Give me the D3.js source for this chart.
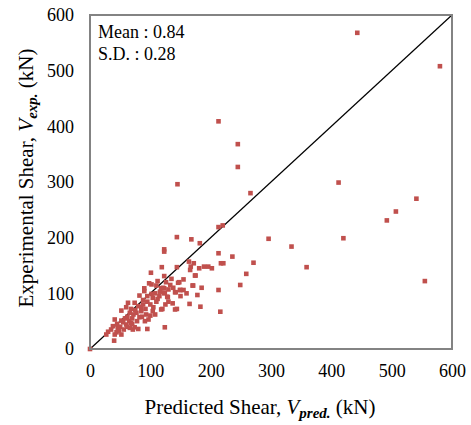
<!DOCTYPE html>
<html>
<head>
<meta charset="utf-8">
<script src="https://cdn.jsdelivr.net/npm/d3@7"></script>
<style>
  body { margin: 0; background: #fff; }
  svg { font-family: "Liberation Serif", "Times New Roman", serif; }
</style>
</head>
<body>
<svg width="471" height="425"></svg>
<script>
// predicted vs experimental shear (kN)
var predicted = [0, 443, 580, 213, 245, 245, 145, 266, 412, 541, 507, 492, 213, 220, 144, 168,
    296, 420, 334, 182, 359, 555, 123, 123, 213, 236, 164, 172, 217, 221, 271, 119,
    144, 167, 181, 189, 196, 202, 166, 101, 259, 123, 174, 98, 102, 110, 146, 133,
    249, 170, 90, 118, 123, 130, 116, 123, 149, 155, 142, 213, 128, 137, 165, 183,
    120, 144, 216, 124, 82, 90, 121, 102, 104, 115, 124, 129, 141, 63, 52, 74,
    80, 88, 66, 77, 82, 85, 93, 97, 104, 41, 52, 60, 68, 74, 38, 46,
    30, 27, 41, 52, 40, 71, 80, 91, 95, 118, 141, 148, 171, 175, 150,
    35, 45, 50, 55, 58, 62, 65, 70, 72, 75, 85, 88, 95, 100, 105, 110,
    112, 108, 95, 92, 86, 78, 70, 48, 44, 56, 62, 66, 100, 108, 60, 68,
    135, 155, 138, 126, 112, 150, 160, 178, 185, 130, 125];
var experimental = [0, 568, 508, 409, 368, 327, 296, 280, 299, 270, 247, 231, 219, 222, 201, 197,
    198, 199, 184, 190, 147, 122, 179, 175, 172, 166, 157, 154, 154, 154, 155, 147,
    147, 148, 145, 148, 148, 145, 142, 137, 135, 131, 132, 118, 116, 114, 119, 115,
    115, 114, 109, 109, 109, 107, 103, 100, 106, 106, 102, 106, 94, 82, 81, 76,
    72, 72, 67, 39, 96, 104, 110, 99, 92, 95, 101, 93, 102, 83, 69, 83,
    77, 80, 65, 65, 57, 68, 62, 53, 68, 53, 51, 44, 47, 39, 41, 38,
    31, 26, 26, 26, 15, 35, 36, 50, 36, 71, 71, 120, 114, 132, 106,
    35, 45, 40, 48, 55, 58, 50, 55, 62, 70, 75, 88, 85, 80, 75, 85,
    90, 100, 95, 72, 58, 50, 45, 33, 30, 35, 40, 38, 60, 62, 75, 72,
    126, 125, 110, 120, 122, 95, 100, 97, 110, 85, 80];
var tickVals = [0, 100, 200, 300, 400, 500, 600];
var statLines = ["Mean : 0.84", "S.D. : 0.28"];

var data = predicted.map(function (p, i) { return { x: p, y: experimental[i] }; });

var svg = d3.select("svg");
var plotL = 90, plotR = 452, plotT = 15, plotB = 349;

var scX = d3.scaleLinear().domain([0, 600]).range([plotL, plotR]);
var scY = d3.scaleLinear().domain([0, 600]).range([plotB, plotT]);

// 1:1 line
svg.append("line")
    .attr("x1", scX(0)).attr("y1", scY(0))
    .attr("x2", scX(600)).attr("y2", scY(600))
    .attr("stroke", "#000").attr("stroke-width", 1.2);

// points
svg.append("g").attr("fill", "#c0504d")
    .selectAll("rect")
    .data(data).enter().append("rect")
    .attr("width", 4.6).attr("height", 4.6)
    .attr("x", d => scX(d.x) - 2.3)
    .attr("y", d => scY(d.y) - 2.3);

// plot frame
svg.append("rect")
    .attr("x", plotL).attr("y", plotT)
    .attr("width", plotR - plotL).attr("height", plotB - plotT)
    .attr("fill", "none").attr("stroke", "#838383").attr("stroke-width", 2);

// axes, labels only
var xAx = svg.append("g").attr("transform", "translate(0," + plotB + ")")
    .call(d3.axisBottom(scX).tickValues(tickVals).tickSize(0).tickPadding(15));
var yAx = svg.append("g").attr("transform", "translate(" + plotL + ",0)")
    .call(d3.axisLeft(scY).tickValues(tickVals).tickSize(0).tickPadding(16));
[xAx, yAx].forEach(function (g) {
    g.select(".domain").remove();
    g.selectAll("text").attr("font-family", "Liberation Serif")
        .attr("font-size", 18).attr("fill", "#000");
});

// stats box text
svg.append("g").selectAll("text")
    .data(statLines).enter().append("text")
    .attr("x", 98).attr("y", (d, i) => 38 + i * 22)
    .attr("font-size", 18).text(d => d);

// x title
var xt = svg.append("text").attr("x", 260).attr("y", 414)
    .attr("text-anchor", "middle").attr("font-size", 21);
xt.append("tspan").text("Predicted Shear, ");
xt.append("tspan").attr("font-style", "italic").text("V");
xt.append("tspan").attr("font-style", "italic").attr("font-weight", "bold")
    .attr("font-size", 15).attr("dy", 4).text("pred.");
xt.append("tspan").attr("dy", -4).text(" (kN)");

// y title
var yt = svg.append("text")
    .attr("transform", "translate(33,178) rotate(-90)")
    .attr("text-anchor", "middle").attr("font-size", 21);
yt.append("tspan").text("Experimental Shear, ");
yt.append("tspan").attr("font-style", "italic").text("V");
yt.append("tspan").attr("font-style", "italic").attr("font-weight", "bold")
    .attr("font-size", 15).attr("dy", 4).text("exp.");
yt.append("tspan").attr("dy", -4).text(" (kN)");
</script>
</body>
</html>
